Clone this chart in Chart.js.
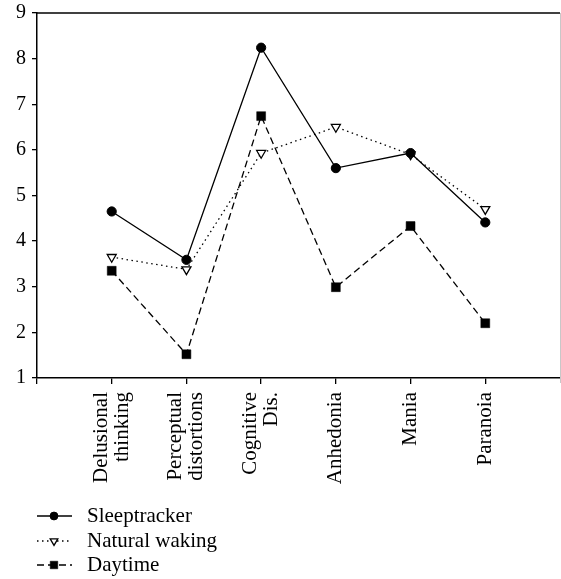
<!DOCTYPE html>
<html>
<head>
<meta charset="utf-8">
<script src="https://cdn.jsdelivr.net/npm/chart.js@4.4.1/dist/chart.umd.min.js"></script>
<style>
html,body{margin:0;padding:0;background:#fff;overflow:hidden;}
#wrap{width:561px;height:579px;position:relative;}
</style>
</head>
<body>
<div id="wrap"><canvas id="c"></canvas></div>
<script>
const categories = [["Delusional","thinking"],["Perceptual","distortions"],["Cognitive","Dis."],["Anhedonia"],["Mania"],["Paranoia"]];
const sleeptracker = [4.65, 3.59, 8.24, 5.60, 5.93, 4.41];
const naturalWaking = [3.65, 3.38, 5.93, 6.50, 5.90, 4.70];
const daytime = [3.35, 1.52, 6.74, 2.99, 4.33, 2.20];
const seriesNames = ["Sleeptracker","Natural waking","Daytime"];
const yTicks = [1,2,3,4,5,6,7,8,9];

const FONT = '"Liberation Serif", "DejaVu Serif", serif';
const pad = arr => [null, ...arr, null];
const xLabels = ['', ...categories.map(c => c.join(' ')), ''];
const PLOT_RIGHT = 560;

const datasets = [
  {label: seriesNames[0], data: pad(sleeptracker), borderColor:'#000', backgroundColor:'#000',
   borderWidth:1.3, pointStyle:'circle', pointRadius:4.6, pointBorderWidth:1, pointBackgroundColor:'#000', pointBorderColor:'#000'},
  {label: seriesNames[1], data: pad(naturalWaking), borderColor:'#000', backgroundColor:'#fff',
   borderWidth:1.3, borderDash:[1.5,3.5], pointStyle:'triangle', pointRotation:180, pointRadius:5.2, pointBorderWidth:1.3,
   pointBackgroundColor:'#fff', pointBorderColor:'#000'},
  {label: seriesNames[2], data: pad(daytime), borderColor:'#000', backgroundColor:'#000',
   borderWidth:1.3, borderDash:[7,4], pointStyle:'rect', pointRadius:6.3, pointBorderWidth:0.5,
   pointBackgroundColor:'#000', pointBorderColor:'#000'}
];

const stretch = {
  id:'stretch',
  afterLayout(chart){
    const xs = chart.scales.x, a = chart.chartArea;
    xs.right = PLOT_RIGHT; xs.width = PLOT_RIGHT - xs.left;
    if (xs.configure) xs.configure();
    a.right = PLOT_RIGHT; a.width = PLOT_RIGHT - a.left;
  }
};

const decor = {
  id:'decor',
  afterDraw(chart){
    const ctx = chart.ctx, a = chart.chartArea, xs = chart.scales.x;
    ctx.save();
    ctx.strokeStyle = '#000'; ctx.lineWidth = 1.5; ctx.setLineDash([]);
    ctx.beginPath(); ctx.moveTo(a.left, a.top); ctx.lineTo(a.right, a.top); ctx.stroke();
    ctx.strokeStyle = '#c8c8c8'; ctx.lineWidth = 1;
    ctx.beginPath(); ctx.moveTo(a.right+0.5, a.top); ctx.lineTo(a.right+0.5, a.bottom+5); ctx.stroke();
    ctx.fillStyle = '#000';
    ctx.font = '21px ' + FONT;
    ctx.textAlign = 'right'; ctx.textBaseline = 'middle';
    const lh = 21;
    categories.forEach((lines, i) => {
      const px = xs.getPixelForValue(i+1);
      const n = lines.length;
      lines.forEach((t, j) => {
        const cx = px + (j - (n-1)/2) * lh;
        ctx.save();
        ctx.translate(cx, a.bottom + 14);
        ctx.rotate(-Math.PI/2);
        ctx.fillText(t, 0, 0);
        ctx.restore();
      });
    });
    const ly = [516, 541, 565];
    chart.data.datasets.forEach((ds, i) => {
      const y = ly[i];
      ctx.strokeStyle = ds.borderColor; ctx.lineWidth = ds.borderWidth;
      ctx.setLineDash(ds.borderDash || []);
      ctx.beginPath(); ctx.moveTo(37, y); ctx.lineTo(72, y); ctx.stroke();
      ctx.setLineDash([]);
      ctx.fillStyle = ds.pointBackgroundColor; ctx.strokeStyle = ds.pointBorderColor;
      ctx.lineWidth = ds.pointBorderWidth;
      Chart.helpers.drawPoint(ctx, {pointStyle: ds.pointStyle, rotation: ds.pointRotation || 0,
        radius: ds.pointRadius*0.85, borderWidth: ds.pointBorderWidth}, 54, y);
      ctx.fillStyle = '#000';
      ctx.font = '21px ' + FONT;
      ctx.textAlign = 'left'; ctx.textBaseline = 'middle';
      ctx.fillText(ds.label, 87, y);
    });
    ctx.restore();
  }
};

function zeroPad(s){ s.paddingTop = 0; s.paddingBottom = 0; s.paddingLeft = 0; s.paddingRight = 0; }

const chart = new Chart(document.getElementById('c'), {
  type:'line',
  data:{labels:xLabels, datasets},
  plugins:[stretch, decor],
  options:{
    responsive:true, maintainAspectRatio:false, animation:false,
    layout:{padding:{top:13,right:1,left:0,bottom:0}},
    plugins:{legend:{display:false}, tooltip:{enabled:false}},
    elements:{line:{tension:0}},
    scales:{
      x:{
        type:'category', offset:false,
        border:{display:true,color:'#000',width:1.5},
        grid:{display:true, drawOnChartArea:false, drawTicks:true, tickLength:6, lineWidth:1.3,
          color:(c)=> (c.index === 7 ? 'rgba(0,0,0,0)' : '#000')},
        ticks:{display:false, autoSkip:false},
        afterFit(s){ s.height = 201; zeroPad(s); }
      },
      y:{
        min:1, max:9,
        border:{display:true,color:'#000',width:1.5},
        grid:{display:true, drawOnChartArea:false, drawTicks:true, tickLength:5, lineWidth:1.3, color:'#000'},
        ticks:{stepSize:1, padding:6, color:'#000', font:{family:FONT, size:20},
          callback:(v)=> yTicks.includes(v) ? String(v) : ''},
        afterFit(s){ s.width = 37; zeroPad(s); }
      }
    }
  }
});
</script>
</body>
</html>
